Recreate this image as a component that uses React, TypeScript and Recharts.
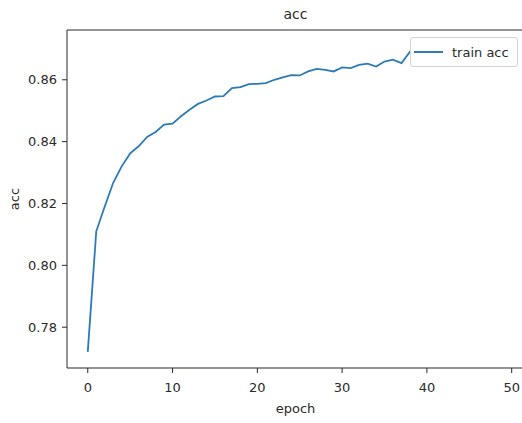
import { Legend, Line, LineChart, XAxis, YAxis } from 'recharts'

// train accuracy per epoch (epochs 39+ sit behind the legend box)
const trainAcc = [
  0.772, 0.811, 0.819, 0.8267, 0.832, 0.8362, 0.8385, 0.8415, 0.8431, 0.8455,
  0.8458, 0.8482, 0.8503, 0.8522, 0.8533, 0.8546, 0.8547, 0.8573, 0.8576, 0.8586,
  0.8587, 0.8589, 0.86, 0.8608, 0.8615, 0.8614, 0.8627, 0.8635, 0.8632, 0.8627,
  0.864, 0.8638, 0.8648, 0.8652, 0.8643, 0.8659, 0.8665, 0.8654, 0.8691, 0.8672,
  0.8668, 0.8685, 0.869, 0.8682, 0.8698, 0.8705, 0.87, 0.8712, 0.871, 0.8718,
]
const xTicks = [0, 10, 20, 30, 40, 50]
const yTicks = [0.78, 0.8, 0.82, 0.84, 0.86]

const chartData = trainAcc.map((acc, epoch) => ({ epoch, acc }))

const font = '"DejaVu Sans", sans-serif'
const ink = '#2a2a2a'
const lineColor = '#2c7bb6'

const LegendBox = () => (
  <div
    style={{
      boxSizing: 'border-box',
      width: 108,
      height: 30,
      border: '1px solid #d4d4d4',
      borderRadius: 3,
      background: '#fff',
      display: 'flex',
      alignItems: 'center',
      fontFamily: font,
      fontSize: 13,
      color: ink,
    }}
  >
    <svg width={41} height={10} style={{ flex: 'none' }}>
      <line x1={3} x2={32} y1={5} y2={5} stroke={lineColor} strokeWidth={2} />
    </svg>
    <span>train acc</span>
  </div>
)

export default function App() {
  return (
    <div
      style={{
        position: 'absolute',
        left: 0,
        top: 0,
        width: 522,
        height: 423,
        overflow: 'hidden',
        background: '#fff',
      }}
    >
      <div
        style={{
          position: 'absolute',
          left: 245,
          width: 101,
          top: 6,
          textAlign: 'center',
          fontFamily: font,
          fontSize: 14,
          color: ink,
        }}
      >
        acc
      </div>
      <LineChart
        width={530}
        height={423}
        data={chartData}
        margin={{ top: 29, right: 6, left: 0, bottom: 0 }}
        style={{ fontFamily: font }}
      >
        {/* top spine of the frame */}
        <XAxis
          xAxisId="top"
          orientation="top"
          type="number"
          dataKey="epoch"
          domain={[-2.45, 51.45]}
          height={1}
          tick={false}
          tickLine={false}
          stroke={ink}
        />
        <XAxis
          type="number"
          dataKey="epoch"
          domain={[-2.45, 51.45]}
          ticks={xTicks}
          allowDataOverflow
          height={55}
          tickSize={5}
          tickMargin={10}
          stroke={ink}
          tick={{ fill: ink, fontSize: 13 }}
          label={{ value: 'epoch', position: 'center', dy: 13, fill: ink, fontSize: 13 }}
        />
        <YAxis
          type="number"
          domain={[0.7668, 0.8761]}
          ticks={yTicks}
          allowDataOverflow
          width={67}
          tickSize={5}
          tickMargin={5}
          stroke={ink}
          tick={{ fill: ink, fontSize: 13 }}
          tickFormatter={(v: number) => v.toFixed(2)}
          label={{ value: 'acc', angle: -90, position: 'center', dx: -19, fill: ink, fontSize: 13 }}
        />
        <Legend
          layout="horizontal"
          verticalAlign="middle"
          content={<LegendBox />}
          wrapperStyle={{ top: 37, left: 410, width: 108, height: 30 }}
        />
        <Line
          type="linear"
          dataKey="acc"
          stroke={lineColor}
          strokeWidth={1.8}
          dot={false}
          activeDot={false}
          isAnimationActive={false}
        />
      </LineChart>
    </div>
  )
}
